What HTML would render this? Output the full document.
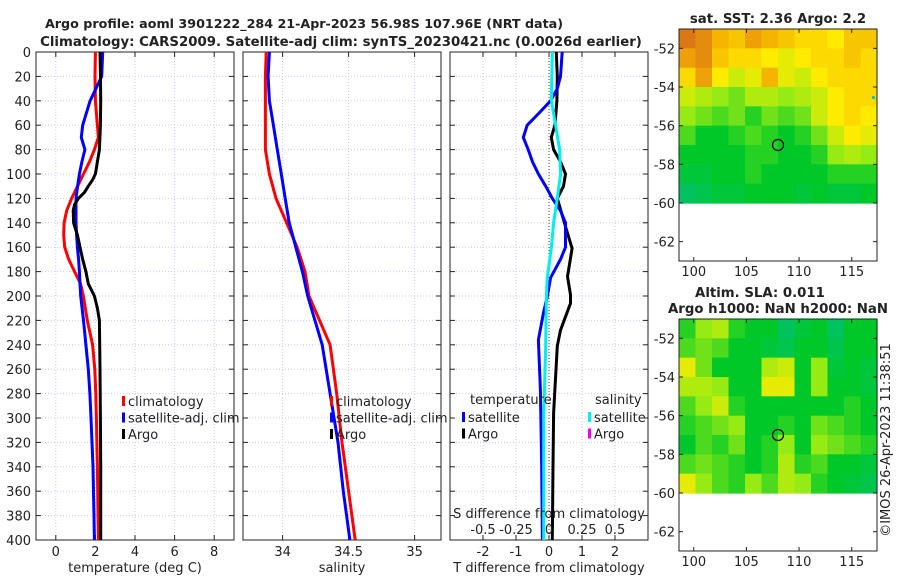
<!DOCTYPE html>
<html><head><meta charset="utf-8"><style>
body{margin:0;background:#fff;}
svg{display:block;font-family:"DejaVu Sans","Liberation Sans",sans-serif;}
</style></head><body>
<svg id="c" width="900" height="580" viewBox="0 0 900 580"></svg>
<script>
// ---------- data ----------
const depthT = [0,20,40,60,70,80,90,100,110,120,130,140,150,160,170,180,190,200,220,240,260,280,300,340,380,400];
const tempClim = [2.0,1.98,2.0,2.1,2.15,1.95,1.7,1.4,1.1,0.8,0.55,0.42,0.4,0.45,0.65,0.95,1.25,1.39,1.59,1.86,1.97,2.02,2.05,2.1,2.13,2.15];
const tempSat = [2.37,2.32,1.73,1.36,1.29,1.47,1.32,1.19,1.1,1.02,1.02,1.02,1.05,1.09,1.15,1.19,1.22,1.26,1.4,1.52,1.64,1.72,1.78,1.88,1.93,1.95];
const depthA = [0,20,40,60,80,90,100,105,110,115,120,125,130,140,150,160,170,180,190,195,200,210,220,260,300,340,400];
const tempArgo = [2.23,2.26,2.27,2.25,2.2,2.1,2.0,1.85,1.64,1.45,1.14,0.95,0.88,0.9,1.09,1.22,1.36,1.52,1.64,1.8,1.95,2.1,2.2,2.23,2.25,2.27,2.27];
const depthS = [0,20,40,60,80,100,120,140,160,180,200,240,280,320,360,400];
const salClim = [33.876,33.87,33.87,33.87,33.87,33.90,33.95,34.03,34.11,34.17,34.20,34.36,34.41,34.45,34.50,34.55];
const salSat = [33.90,33.89,33.90,33.93,33.96,33.99,34.02,34.05,34.10,34.15,34.19,34.30,34.36,34.42,34.46,34.51];
const depthD = [0,20,30,40,50,60,70,80,90,100,110,120,130,140,160,170,185,200,214,236,277,340,400];
const dTSat = [0.4,0.35,0.25,0.05,-0.3,-0.66,-0.78,-0.63,-0.5,-0.32,-0.1,0.1,0.35,0.5,0.5,0.35,0.05,-0.05,-0.17,-0.32,-0.26,-0.22,-0.2];
const depthDA = [0,20,40,60,70,80,90,100,110,120,143,161,184,199,206,228,241,296,340,400];
const dTArgo = [0.22,0.25,0.24,0.18,0.07,0.14,0.35,0.5,0.44,0.25,0.5,0.7,0.56,0.65,0.65,0.35,0.25,0.14,0.12,0.1];
const depthDS = [0,40,60,80,100,120,140,160,185,200,240,300,400];
const dSSat = [0.025,0.018,0.05,0.08,0.088,0.063,0.035,0.018,-0.013,-0.02,-0.025,-0.04,-0.04];
const depthTicks = [0,20,40,60,80,100,120,140,160,180,200,220,240,260,280,300,320,340,360,380,400];
const tempTicks = [0,2,4,6,8];
const salTicks = [34,34.5,35];
const salTickLabels = ["34","34.5","35"];
const dTTicks = [-2,-1,0,1,2];
const dSTicks = [-0.5,-0.25,0,0.25,0.5];
const dSTickLabels = ["-0.5","-0.25","0","0.25","0.5"];
const lonTicks = [100,105,110,115];
const latTicks = [-52,-54,-56,-58,-60,-62];
const sstGrid = [
[1,0.95,0.85,0.8,0.9,0.85,0.8,0.75,0.75,0.7,0.8,0.8],
[0.9,0.95,0.8,0.75,0.75,0.7,0.65,0.7,0.75,0.75,0.8,0.75],
[0.75,0.9,0.7,0.6,0.65,0.85,0.65,0.6,0.7,0.75,0.75,0.75],
[0.6,0.55,0.5,0.45,0.55,0.55,0.5,0.55,0.6,0.7,0.75,0.75],
[0.5,0.45,0.4,0.45,0.35,0.45,0.4,0.45,0.6,0.7,0.75,0.7],
[0.4,0.3,0.3,0.35,0.4,0.35,0.3,0.35,0.45,0.6,0.7,0.65],
[0.3,0.3,0.3,0.3,0.35,0.35,0.3,0.3,0.35,0.5,0.55,0.5],
[0.25,0.25,0.3,0.3,0.35,0.3,0.3,0.3,0.3,0.35,0.35,0.35],
[0.15,0.2,0.25,0.25,0.3,0.3,0.3,0.25,0.3,0.25,0.25,0.3]];
const slaGrid = [
[0.35,0.5,0.55,0.35,0.3,0.3,0.15,0.25,0.3,0.15,0.3,0.3],
[0.4,0.45,0.4,0.3,0.3,0.25,0.2,0.3,0.3,0.2,0.3,0.3],
[0.65,0.45,0.3,0.3,0.3,0.55,0.6,0.3,0.5,0.25,0.3,0.25],
[0.55,0.55,0.5,0.3,0.3,0.65,0.65,0.3,0.5,0.3,0.3,0.25],
[0.4,0.5,0.6,0.35,0.3,0.3,0.3,0.3,0.3,0.3,0.35,0.3],
[0.35,0.4,0.45,0.5,0.3,0.3,0.35,0.3,0.45,0.4,0.35,0.3],
[0.3,0.4,0.35,0.45,0.3,0.35,0.5,0.3,0.5,0.45,0.4,0.35],
[0.4,0.45,0.4,0.35,0.3,0.35,0.55,0.35,0.4,0.3,0.3,0.25],
[0.65,0.5,0.4,0.35,0.5,0.4,0.55,0.5,0.35,0.3,0.25,0.2]];

// ---------- helpers ----------
const NS="http://www.w3.org/2000/svg";
const svg=document.getElementById('c');
function mk(tag,attrs,parent){const e=document.createElementNS(NS,tag);for(const k in attrs)e.setAttribute(k,attrs[k]);(parent||svg).appendChild(e);return e;}
function txt(s,x,y,size,anchor,weight,parent){const t=mk('text',{x:x,y:y,'font-size':size,'text-anchor':anchor||'middle','font-weight':weight||'normal',fill:'#222'},parent);t.textContent=s;return t;}
const PT=52,PB=540;
const yD=d=>PT+(d/400)*(PB-PT);
function lin(d0,d1,p0,p1){return v=>p0+(v-d0)/(d1-d0)*(p1-p0);}

function panel(name,x0,x1,xs,xticks,xlabels,xtitle,showY){
  const g=mk('g',{});
  
  
  mk('rect',{x:x0,y:PT,width:x1-x0,height:PB-PT,fill:'#fff'},g);
  depthTicks.forEach(d=>{mk('line',{x1:x0,x2:x1,y1:yD(d),y2:yD(d),stroke:'#c4cdea','stroke-width':1,'stroke-dasharray':'1,2'},g);});
  xticks.forEach(v=>{mk('line',{x1:xs(v),x2:xs(v),y1:PT,y2:PB,stroke:'#c4cdea','stroke-width':1,'stroke-dasharray':'1,2'},g);});
  depthTicks.forEach(d=>{mk('line',{x1:x0,x2:x0+5,y1:yD(d),y2:yD(d),stroke:'#222'},g);mk('line',{x1:x1-5,x2:x1,y1:yD(d),y2:yD(d),stroke:'#222'},g);
    if(showY){const t=txt(String(d),31,yD(d)+5,13,'end',null,g);}});
  xticks.forEach((v,i)=>{mk('line',{x1:xs(v),x2:xs(v),y1:PB,y2:PB-5,stroke:'#222'},g);mk('line',{x1:xs(v),x2:xs(v),y1:PT,y2:PT+5,stroke:'#222'},g);
    const t=txt(xlabels[i],xs(v),556,13,'middle',null,g);});
  const tt=txt(xtitle,(x0+x1)/2,572,13,'middle',null,g);
  
  mk('rect',{x:x0,y:PT,width:x1-x0,height:PB-PT,fill:'none',stroke:'#222','stroke-width':1},g);
  return g;
}
function line(g,name,xs,vals,depths,color,w){
  const pts=vals.map((v,i)=>xs(v).toFixed(1)+','+yD(depths[i]).toFixed(1)).join(' ');
  const p=mk('polyline',{points:pts,fill:'none',stroke:color,'stroke-width':w||3,'stroke-linejoin':'round'},g);
  
  
}
function legend(g,x,y,items){
  items.forEach((it,i)=>{
    const yy=y+i*16.5;
    mk('rect',{x:x,y:yy-9,width:3,height:10,fill:it[1]},g);
    const t=txt(it[0],x+6,yy+1,13,'start',null,g);
    
    
  });
}

// ---------- titles ----------
let t=txt('Argo profile: aoml 3901222_284 21-Apr-2023 56.98S 107.96E (NRT data)',304,28,12.7,'middle','bold');

t=txt('Climatology: CARS2009. Satellite-adj clim: synTS_20230421.nc (0.0026d earlier)',341,46,13.3,'middle','bold');


// ---------- panel 1 ----------
const xT=lin(-1,9,36,234);
const g1=panel('temperature-panel',36,234,xT,tempTicks,tempTicks.map(String),'temperature (deg C)',true);
line(g1,'temp-climatology-line',xT,tempClim,depthT,'#f00');
line(g1,'temp-satellite-line',xT,tempSat,depthT,'#00f');
line(g1,'temp-argo-line',xT,tempArgo,depthA,'#000');
legend(g1,122,405,[['climatology','#f00'],['satellite-adj. clim','#00f'],['Argo','#000']]);

// ---------- panel 2 ----------
const xS=lin(33.7,35.2,243,441);
const g2=panel('salinity-panel',243,441,xS,salTicks,salTickLabels,'salinity',false);
line(g2,'sal-climatology-line',xS,salClim,depthS,'#f00');
line(g2,'sal-satellite-line',xS,salSat,depthS,'#00f');
legend(g2,330,405,[['climatology','#f00'],['satellite-adj. clim','#00f'],['Argo','#000']]);

// ---------- panel 3 ----------
const xDT=lin(-3,3,450,648);
const xDS=s=>xDT(s*4);
const g3=panel('difference-panel',450,648,xDT,dTTicks,dTTicks.map(String),'T difference from climatology',false);
mk('line',{x1:xDT(0),x2:xDT(0),y1:PT,y2:PB,stroke:'#444','stroke-width':1,'stroke-dasharray':'1,2'},g3);
line(g3,'tdiff-argo-line',xDT,dTArgo,depthDA,'#000');
line(g3,'tdiff-satellite-line',xDT,dTSat,depthD,'#00f');
line(g3,'sdiff-satellite-line',xDS,dSSat,depthDS,'#0ee');
t=txt('temperature',470,404,13,'start',null,g3);
t=txt('salinity',595,404,13,'start',null,g3);
legend(g3,462,421,[['satellite','#00f'],['Argo','#000']]);
legend(g3,588,421,[['satellite','#0ee'],['Argo','#e0e']]);
t=txt('S difference from climatology',549,518,13,'middle',null,g3);
dSTicks.forEach((v,i)=>{const tl=txt(dSTickLabels[i],xDS(v),534,13,'middle',null,g3);});

// ---------- maps ----------
function cmap(v){
  const stops=[[0,[0,190,150]],[0.3,[0,200,40]],[0.5,[150,235,20]],[0.7,[255,235,0]],[0.85,[245,180,0]],[1,[220,120,20]]];
  for(let i=1;i<stops.length;i++){if(v<=stops[i][0]){const a=stops[i-1],b=stops[i];const f=(v-a[0])/(b[0]-a[0]);
    return 'rgb('+a[1].map((c,k)=>Math.round(c+f*(b[1][k]-c))).join(',')+')';}}
  return 'rgb(220,120,20)';
}
function map(name,top,grid,title1,title2){
  const g=mk('g',{});
  
  
  const bot=top+232,x0=679,x1=877;
  const xl=lin(98.6,117.4,x0,x1), yl=lin(-51,-63,top,bot);
  const nr=grid.length,nc=grid[0].length;
  const cw=(x1-x0)/nc, rh=(yl(-60)-top)/nr;
  grid.forEach((row,r)=>row.forEach((v,c)=>{
    const cell=mk('rect',{x:(x0+c*cw).toFixed(2),y:(top+r*rh).toFixed(2),width:(cw+0.6).toFixed(2),height:(rh+0.6).toFixed(2),fill:cmap(v)},g);
    
    
  }));
  mk('rect',{x:x0,y:top,width:x1-x0,height:bot-top,fill:'none',stroke:'#222'},g);
  lonTicks.forEach(v=>{mk('line',{x1:xl(v),x2:xl(v),y1:bot,y2:bot-4,stroke:'#222'},g);mk('line',{x1:xl(v),x2:xl(v),y1:top,y2:top+4,stroke:'#222'},g);
    const tl=txt(String(v),xl(v),bot+15,13,'middle',null,g);});
  latTicks.forEach(v=>{mk('line',{x1:x0,x2:x0+4,y1:yl(v),y2:yl(v),stroke:'#222'},g);mk('line',{x1:x1-4,x2:x1,y1:yl(v),y2:yl(v),stroke:'#222'},g);
    const tl=txt(String(v),675,yl(v)+5,13,'end',null,g);});
  const c=mk('circle',{cx:xl(108),cy:yl(-57),r:5.5,fill:'none',stroke:'#000','stroke-width':1.2},g);
  
  if(title2){t=txt(title1,760,top-22,13.3,'middle','bold',g);
    t=txt(title2,778,top-6,13.3,'middle','bold',g);}
  else{t=txt(title1,778,top-6,13.3,'middle','bold',g);}
  return g;
}
const m1=map('sst-map',29,sstGrid,'sat. SST: 2.36 Argo: 2.2');
mk('rect',{x:872,y:96,width:3,height:3,fill:'#0cc'},m1);
map('sla-map',319,slaGrid,'Altim. SLA: 0.011','Argo h1000: NaN h2000: NaN');
t=txt('©IMOS 26-Apr-2023 11:38:51',890,440,13,'middle');
t.setAttribute('transform','rotate(-90 890 440)');

</script>
</body></html>
